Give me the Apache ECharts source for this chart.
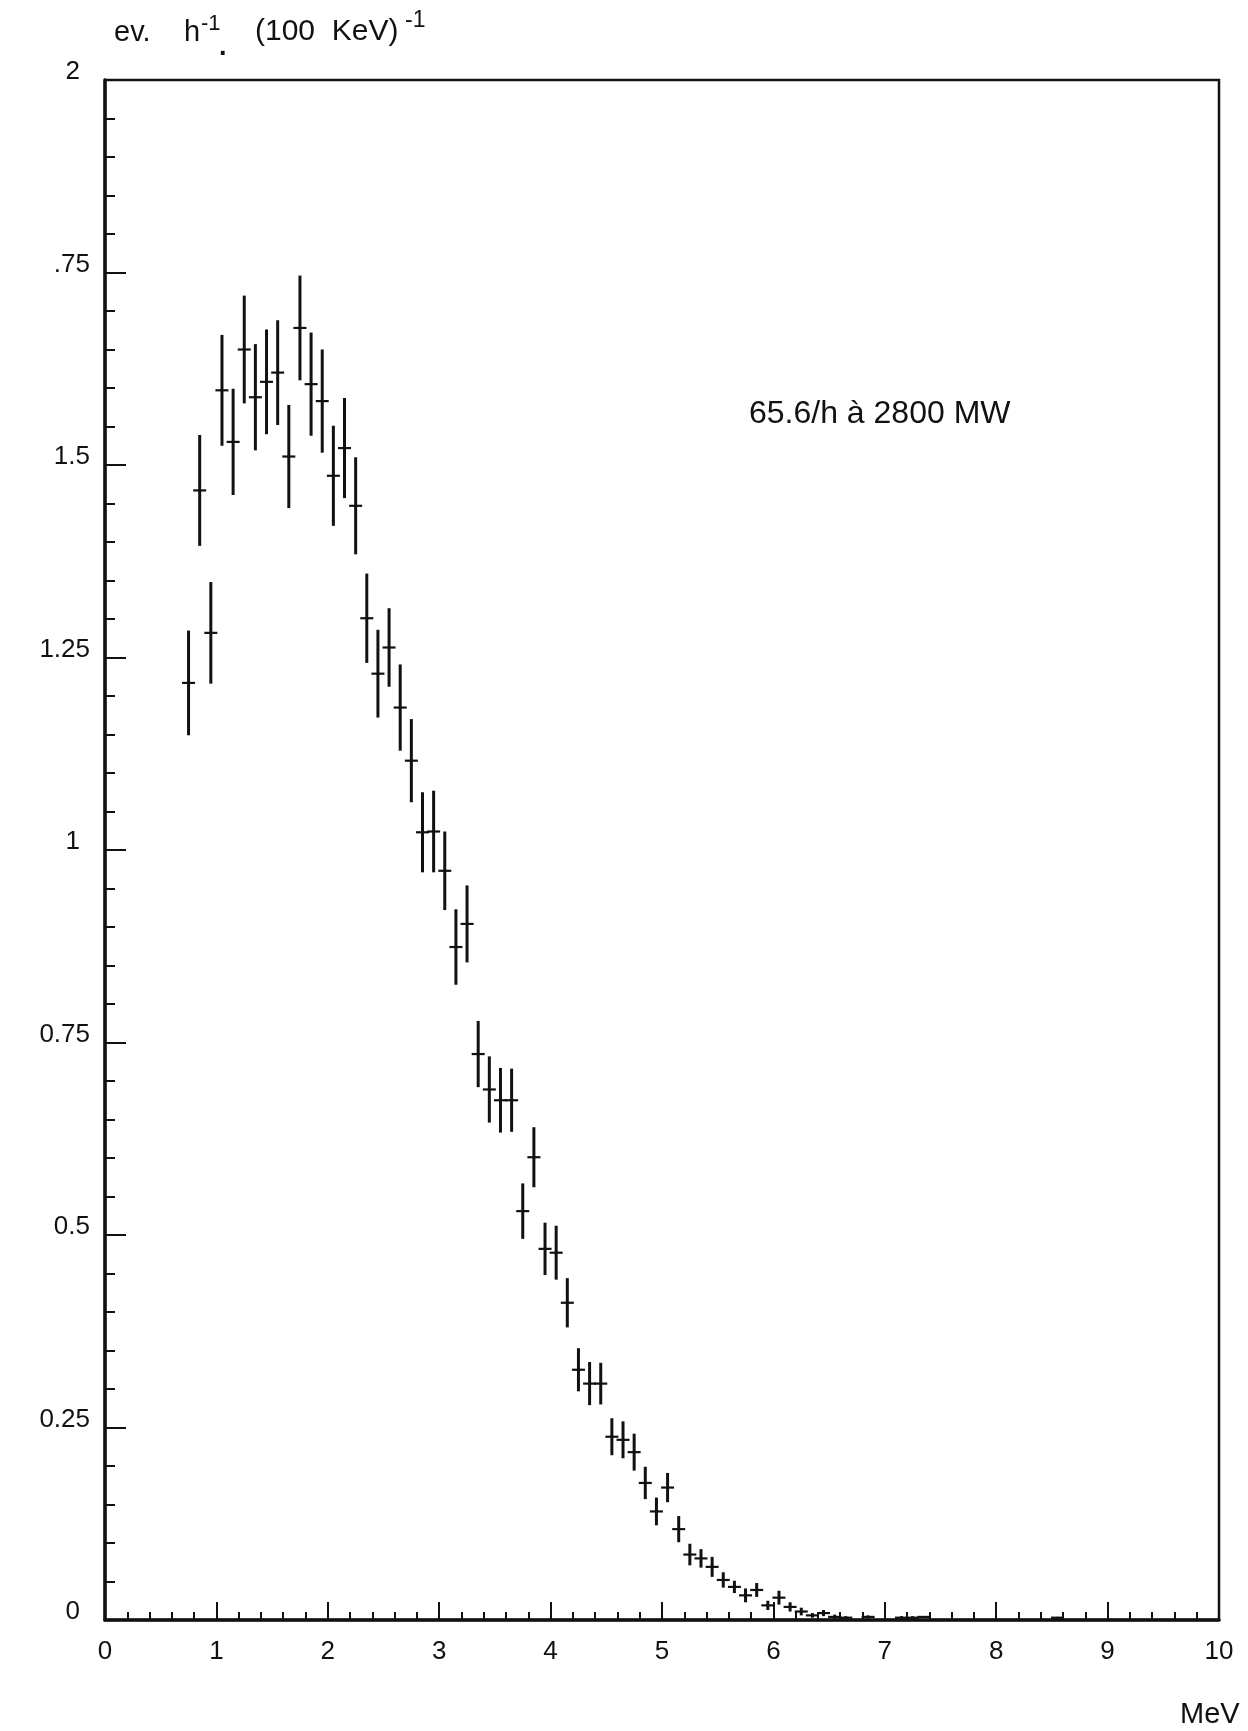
<!DOCTYPE html>
<html>
<head>
<meta charset="utf-8">
<script src="https://cdn.jsdelivr.net/npm/echarts@6/dist/echarts.min.js"></script>
<style>
  html, body { margin: 0; padding: 0; background: #fff; }
  #chart { width: 1248px; height: 1731px; }
</style>
</head>
<body>
<div id="chart"></div>
<script>
// Positron energy spectrum, 100 keV bins (bin centres in MeV)
const energy = [
  0.75, 0.85, 0.95, 1.05, 1.15, 1.25, 1.35, 1.45, 1.55, 1.65,
  1.75, 1.85, 1.95, 2.05, 2.15, 2.25, 2.35, 2.45, 2.55, 2.65,
  2.75, 2.85, 2.95, 3.05, 3.15, 3.25, 3.35, 3.45, 3.55, 3.65,
  3.75, 3.85, 3.95, 4.05, 4.15, 4.25, 4.35, 4.45, 4.55, 4.65,
  4.75, 4.85, 4.95, 5.05, 5.15, 5.25, 5.35, 5.45, 5.55, 5.65,
  5.75, 5.85, 5.95, 6.05, 6.15, 6.25, 6.35, 6.45, 6.55, 6.65,
  6.85, 7.15, 7.25, 7.35, 8.55
];
// events per hour per 100 keV
const rate = [
  1.217, 1.467, 1.282, 1.597, 1.530, 1.650, 1.588, 1.608, 1.620, 1.511,
  1.678, 1.605, 1.583, 1.486, 1.522, 1.447, 1.301, 1.229, 1.263, 1.185,
  1.116, 1.023, 1.024, 0.973, 0.874, 0.904, 0.735, 0.689, 0.675, 0.675,
  0.531, 0.601, 0.482, 0.477, 0.412, 0.325, 0.307, 0.307, 0.238, 0.234,
  0.218, 0.178, 0.141, 0.172, 0.118, 0.085, 0.080, 0.069, 0.052, 0.043,
  0.032, 0.039, 0.019, 0.029, 0.017, 0.011, 0.006, 0.009, 0.004, 0.003,
  0.004, 0.003, 0.003, 0.004, 0.003
];
// statistical error on each bin
const rateErr = [
  0.068, 0.072, 0.066, 0.072, 0.069, 0.070, 0.069, 0.068, 0.068, 0.067,
  0.068, 0.067, 0.067, 0.065, 0.065, 0.063, 0.058, 0.057, 0.051, 0.056,
  0.054, 0.052, 0.053, 0.051, 0.049, 0.050, 0.043, 0.043, 0.042, 0.041,
  0.036, 0.039, 0.034, 0.035, 0.032, 0.028, 0.028, 0.027, 0.024, 0.024,
  0.024, 0.021, 0.018, 0.019, 0.017, 0.014, 0.012, 0.013, 0.010, 0.008,
  0.009, 0.009, 0.006, 0.009, 0.006, 0.005, 0.003, 0.004, 0.003, 0.002,
  0.002, 0.002, 0.002, 0.001, 0.001
];

const yTickLabels = ['0', '0.25', '0.5', '0.75', '1', '1.25', '1.5', '.75', '2'];
const xTickLabels = ['0', '1', '2', '3', '4', '5', '6', '7', '8', '9', '10'];

const FONT = 'Liberation Sans';
const INK = '#111';

const points = energy.map((e, i) => [e, rate[i], rateErr[i]]);

const chart = echarts.init(document.getElementById('chart'), null, { renderer: 'canvas' });

// y labels sit a little above their ticks; single digits stand a bit further left
const yLabelRich = {
  m: { fontFamily: FONT, fontSize: 26, color: INK, padding: [0, 0, 16, 0] },
  one: { fontFamily: FONT, fontSize: 26, color: INK, padding: [0, 10, 16, 0] }
};

chart.setOption({
  backgroundColor: '#fff',
  animation: false,
  grid: {
    left: 105, right: 29, top: 80, bottom: 111,
    show: true, borderColor: INK, borderWidth: 2.5, backgroundColor: 'transparent'
  },
  xAxis: {
    type: 'value', min: 0, max: 10, interval: 1,
    axisLine: { show: true, onZero: false, lineStyle: { color: INK, width: 3.5 } },
    axisTick: { show: true, inside: true, length: 18, lineStyle: { color: INK, width: 2 } },
    minorTick: { show: true, splitNumber: 5, length: 8, lineStyle: { color: INK, width: 2 } },
    splitLine: { show: false },
    axisLabel: {
      color: INK, fontFamily: FONT, fontSize: 26, margin: 19,
      formatter: (v) => xTickLabels[Math.round(v)]
    }
  },
  yAxis: {
    type: 'value', min: 0, max: 2, interval: 0.25,
    axisLine: { show: true, onZero: false, lineStyle: { color: INK, width: 3.5 } },
    axisTick: { show: true, inside: true, length: 21, lineStyle: { color: INK, width: 2 } },
    minorTick: { show: true, splitNumber: 5, length: 10, lineStyle: { color: INK, width: 2 } },
    splitLine: { show: false },
    axisLabel: {
      color: INK, fontFamily: FONT, fontSize: 26, margin: 15,
      formatter: (v) => {
        const t = yTickLabels[Math.round(v / 0.25)];
        return (t.length === 1 ? '{one|' : '{m|') + t + '}';
      },
      rich: yLabelRich
    }
  },
  series: [{
    type: 'custom',
    name: 'spectre',
    data: points,
    clip: false,
    renderItem: (params, api) => {
      const x = api.value(0), y = api.value(1), e = api.value(2);
      const c = api.coord([x, y]);
      const hi = api.coord([x, y + e]);
      const lo = api.coord([x, Math.max(0, y - e)]);
      const half = 6.5;
      return {
        type: 'group',
        children: [
          { type: 'line', shape: { x1: c[0], y1: hi[1], x2: c[0], y2: lo[1] },
            style: { stroke: INK, lineWidth: 3 } },
          { type: 'line', shape: { x1: c[0] - half, y1: c[1], x2: c[0] + half, y2: c[1] },
            style: { stroke: INK, lineWidth: 2.2 } }
        ]
      };
    }
  }],
  graphic: [
    // y-axis unit: ev. h-1 (100 KeV)-1
    { type: 'text', left: 114, top: 18, style: { text: 'ev.', fontFamily: FONT, fontSize: 29, fill: INK } },
    { type: 'text', left: 184, top: 18, style: { text: 'h', fontFamily: FONT, fontSize: 29, fill: INK } },
    { type: 'text', left: 201, top: 13, style: { text: '-1', fontFamily: FONT, fontSize: 22, fill: INK } },
    { type: 'text', left: 219, top: 34, style: { text: '.', fontFamily: FONT, fontSize: 27, fill: INK, fontWeight: 'bold' } },
    { type: 'text', left: 255, top: 17, style: { text: '(100  KeV)', fontFamily: FONT, fontSize: 30, fill: INK } },
    { type: 'text', left: 405, top: 9, style: { text: '-1', fontFamily: FONT, fontSize: 23, fill: INK } },
    // operating condition note
    { type: 'text', left: 749, top: 398, style: { text: '65.6/h à 2800 MW', fontFamily: FONT, fontSize: 32, fill: INK } },
    // x-axis unit
    { type: 'text', left: 1180, top: 1700, style: { text: 'MeV', fontFamily: FONT, fontSize: 29, fill: INK } }
  ]
});
</script>
</body>
</html>
